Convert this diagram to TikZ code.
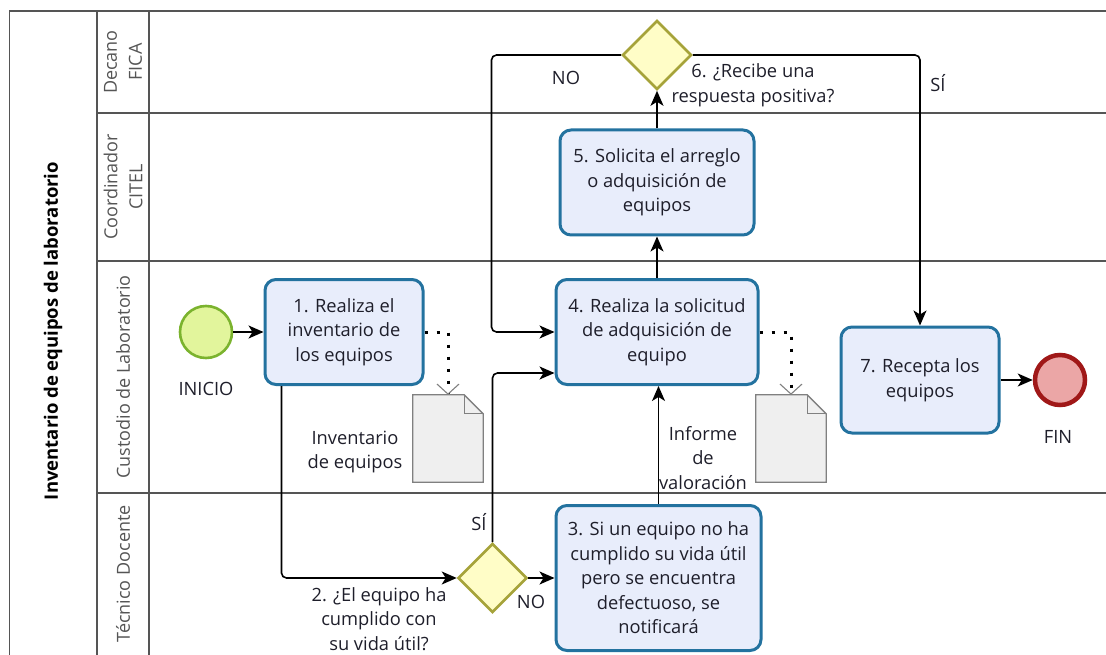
\documentclass[tikz,border=0pt]{standalone}
\usepackage{fontspec}
\setmainfont{Open Sans}
\usetikzlibrary{arrows.meta,shapes.geometric}
\definecolor{taskline}{HTML}{23729F}
\definecolor{taskfill}{HTML}{E8EDFB}
\definecolor{gateline}{HTML}{A6A33A}
\definecolor{gatefill}{HTML}{FFFDC7}
\definecolor{startline}{HTML}{7BB32E}
\definecolor{startfill}{HTML}{E2F59C}
\definecolor{endline}{HTML}{A01818}
\definecolor{endfill}{HTML}{EBA6A6}
\definecolor{docline}{HTML}{808080}
\definecolor{docfill}{HTML}{EFEFEF}
\definecolor{poolline}{HTML}{555555}
\definecolor{txt}{HTML}{1E1E2A}
\begin{document}
\begin{tikzpicture}[x=1pt,y=-1pt,
	every node/.style={font=\fontsize{18.3}{24.5}\selectfont,text=txt,align=center},
	task/.style={draw=taskline,fill=taskfill,line width=3pt,rounded corners=11pt,inner sep=2pt},
	gate/.style={diamond,draw=gateline,fill=gatefill,line width=2.6pt,minimum size=69pt,inner sep=0pt},
	startev/.style={circle,draw=startline,fill=startfill,line width=2.6pt,minimum size=52pt},
	endev/.style={circle,draw=endline,fill=endfill,line width=4.5pt,minimum size=50pt},
	doc/.style={minimum width=70pt,minimum height=87pt,inner sep=0pt},
	flow/.style={line width=1.6pt,rounded corners=5pt,-{Stealth[length=15pt,width=13pt,inset=4pt]}},
	assoc/.style={line width=3pt,dash pattern=on 3pt off 9pt,-{Straight Barb[length=10pt,width=22pt,line width=1.1pt,color=docline]}},
	pool/.style={draw=poolline,line width=1.4pt},
	lane/.style={rotate=90,text=poolline,font=\fontsize{18}{25}\selectfont}]
	\useasboundingbox (0,0) rectangle (1106,655);
	\draw[pool] (9.5,655) -- (9.5,11) -- (1106,11);
	\draw[pool] (97,11) -- (97,655) (149,11) -- (149,655);
	\foreach \y in {113,261,493} \draw[pool] (97,\y) -- (1106,\y);
	\node[font=\fontsize{18.5}{22}\selectfont\bfseries,rotate=90,text=black] (pooltitle) at (53,331) {Inventario de equipos de laboratorio};
	\node[lane] (lanedecano) at (123,62) {Decano\\FICA};
	\node[lane] (lanecoord) at (123,187) {Coordinador\\CITEL};
	\node[lane] (lanecust) at (123,377) {Custodio de Laboratorio};
	\node[lane] (lanetec) at (123,574) {Técnico Docente};
	\node[startev] (start) at (206,332) {};
	\node (inicio) at (206,389) {INICIO};
	\node[task,minimum width=158pt,minimum height=105pt] (box1) at (344,332) {1. Realiza el\\inventario de\\los equipos};
	\node[gate] (d2) at (492.5,578) {};
	\node (d2lbl) at (379,619) {2. ¿El equipo ha\\cumplido con\\su vida útil?};
	\node (d2si) at (479,522) {SÍ};
	\node (d2no) at (531,602) {NO};
	\node[task,minimum width=205pt,minimum height=145pt] (box3) at (658.5,578) {3. Si un equipo no ha\\cumplido su vida útil\\pero se encuentra\\defectuoso, se\\notificará};
	\node[task,minimum width=202pt,minimum height=105pt] (box4) at (657,332) {4. Realiza la solicitud\\de adquisición de\\equipo};
	\node[task,minimum width=194pt,minimum height=105pt] (box5) at (657,182.5) {5. Solicita el arreglo\\o adquisición de\\equipos};
	\node[gate] (d6) at (657,55) {};
	\node (d6lbl) at (753,85) {6. ¿Recibe una\\respuesta positiva?};
	\node (d6no) at (566,78) {NO};
	\node (d6si) at (938,83) {SÍ};
	\node[task,minimum width=158pt,minimum height=106pt] (box7) at (920,380) {7. Recepta los\\equipos};
	\node[endev] (endev) at (1060,380) {};
	\node (fin) at (1058,437) {FIN};
	\node[doc] (doc1) at (448,438.5) {};
	\node (doc1lbl) at (355,452) {Inventario\\de equipos};
	\node[doc] (doc2) at (791,438.5) {};
	\node (doc2lbl) at (703,458) {Informe\\de\\valoración};
	\foreach \d in {doc1,doc2}{
		\draw[draw=docline,fill=docfill,line width=1.3pt] (\d.south west) -- (\d.north west) -- ([xshift=-19pt]\d.north east) -- ([yshift=-19pt]\d.north east) -- (\d.south east) -- cycle;
		\draw[draw=docline,line width=1.1pt] ([xshift=-19pt]\d.north east) |- ([yshift=-19pt]\d.north east);
	}
	\draw[flow] (start) -- (box1);
	\draw[flow] ([xshift=18pt]box1.south west) |- (d2.west);
	\draw[flow] (d2.north) |- ([yshift=-41pt]box4.west);
	\draw[flow] (d2.east) -- (box3.west);
	\draw[flow] (box3.north) -- (box3.north |- box4.south);
	\draw[flow] (box4.north) -- (box5.south);
	\draw[flow] (box5.north) -- (d6.south);
	\draw[flow] (d6.west) -| ([xshift=-63pt]box4.west) -- (box4.west);
	\draw[flow] (d6.east) -| (box7.north);
	\draw[flow] (box7) -- (endev);
	\draw[assoc] (box1.east) -| (doc1.north);
	\draw[assoc] (box4.east) -| (doc2.north);
\end{tikzpicture}
\end{document}
